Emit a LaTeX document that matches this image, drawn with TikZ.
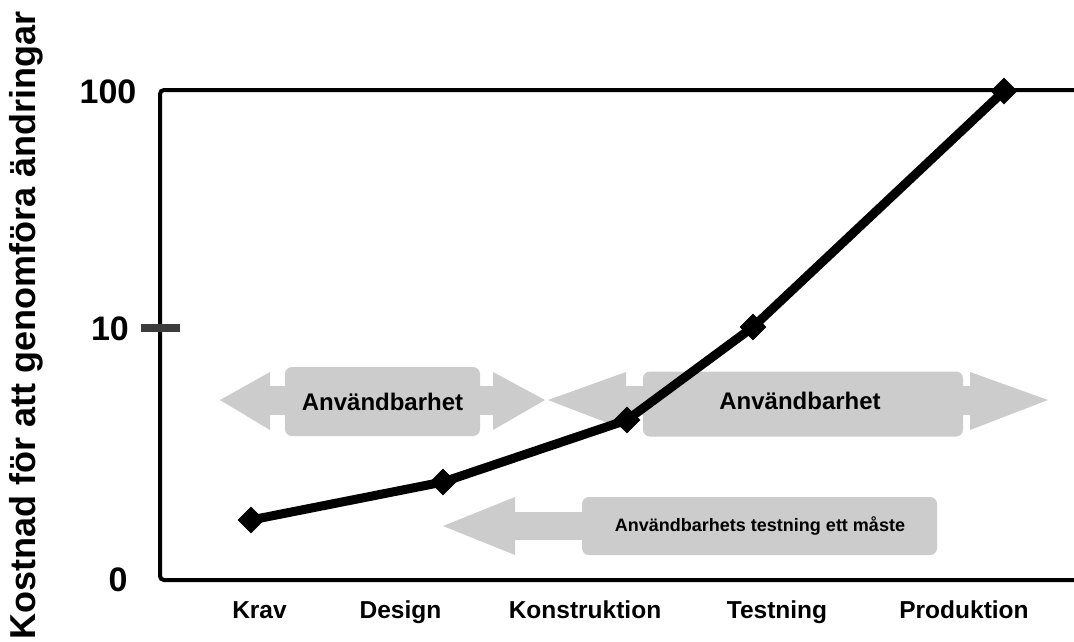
\documentclass[tikz,border=0pt]{standalone}
\usepackage{fontspec}
\setmainfont{Liberation Sans}
\usetikzlibrary{shapes.geometric}
\definecolor{arrowgray}{HTML}{CCCCCC}
\definecolor{tickgray}{HTML}{3C3C3C}
\tikzset{
  axisline/.style={line width=4pt, rounded corners=4pt},
  ticklabel/.style={font=\fontsize{34}{38}\selectfont\bfseries, inner sep=0pt},
  phaselabel/.style={font=\fontsize{24}{28}\selectfont\bfseries, inner sep=0pt},
  xlabel/.style={font=\fontsize{24.5}{28}\selectfont\bfseries, inner sep=0pt, anchor=base},
  graybox/.style={fill=arrowgray, rounded corners=7pt, inner sep=0pt},
  grayhead/.style={fill=arrowgray},
  datapt/.style={diamond, fill=black, inner sep=0pt, minimum size=27pt},
  dataline/.style={line width=9pt, line join=round}
}
\begin{document}
\begin{tikzpicture}[x=1pt,y=-1pt]
\useasboundingbox (0,0) rectangle (1074,641);
\fill[white] (0,0) rectangle (1074,641);

% gray arrows (behind the curve)
% arrow 1
\fill[grayhead] (220,400) -- (270,372) -- (270,430) -- cycle;
\fill[grayhead] (268,386) rectangle (290,415);
\fill[grayhead] (475,386) rectangle (495,415);
\fill[grayhead] (493,372) -- (545,400) -- (493,430) -- cycle;
\node[graybox, minimum width=195pt, minimum height=69pt] (box1) at (382.5,401.5) {};
\node[phaselabel] (t1) at (box1.center) {Användbarhet};
% arrow 2
\fill[grayhead] (548,400) -- (626,372) -- (626,430) -- cycle;
\fill[grayhead] (624,386) rectangle (648,415);
\fill[grayhead] (958,386) rectangle (972,415);
\fill[grayhead] (970,372) -- (1048,400) -- (970,430) -- cycle;
\node[graybox, minimum width=320pt, minimum height=65pt] (box2) at (803,404) {};
\node[phaselabel] (t2) at (800,401) {Användbarhet};
% arrow 3
\fill[grayhead] (443,526) -- (515,497) -- (515,555) -- cycle;
\fill[grayhead] (513,512) rectangle (588,540);
\node[graybox, minimum width=355pt, minimum height=58pt] (box3) at (759.5,526) {};
\node[font=\fontsize{18}{21}\selectfont\bfseries, inner sep=0pt] (t3) at (760,526) {Användbarhets testning ett måste};

% axes
\coordinate (topR) at (1074,90);
\coordinate (topL) at (160,90);
\coordinate (botL) at (160,580);
\coordinate (botR) at (1074,580);
\draw[axisline] (topR) -- (topL) -- (botL) -- (botR);
\coordinate (tickL) at (141,328);
\coordinate (tickR) at (180,328);
\draw[line width=8pt, tickgray] (tickL) -- (tickR);

\node[ticklabel] (l100) at (108,92) {100};
\node[ticklabel] (l10) at (110,329) {10};
\node[ticklabel] (l0) at (118,580) {0};

\node[rotate=90, font=\fontsize{36}{40}\selectfont\bfseries, inner sep=0pt] (ylab) at (26,325) {Kostnad för att genomföra ändringar};

% x labels
\node[xlabel] (xk) at (259.5,618) {Krav};
\node[xlabel] (xd) at (400.5,618) {Design};
\node[xlabel] (xc) at (585,618) {Konstruktion};
\node[xlabel] (xt) at (777,618) {Testning};
\node[xlabel] (xp) at (964,618) {Produktion};

% data
\node[datapt] (p1) at (251,520) {};
\node[datapt] (p2) at (443,482) {};
\node[datapt] (p3) at (627,420) {};
\node[datapt] (p4) at (753,327) {};
\node[datapt] (p5) at (1004,91) {};
\draw[dataline] (p1.center) -- (p2.center) -- (p3.center) -- (p4.center) -- (p5.center);
\end{tikzpicture}
\end{document}
